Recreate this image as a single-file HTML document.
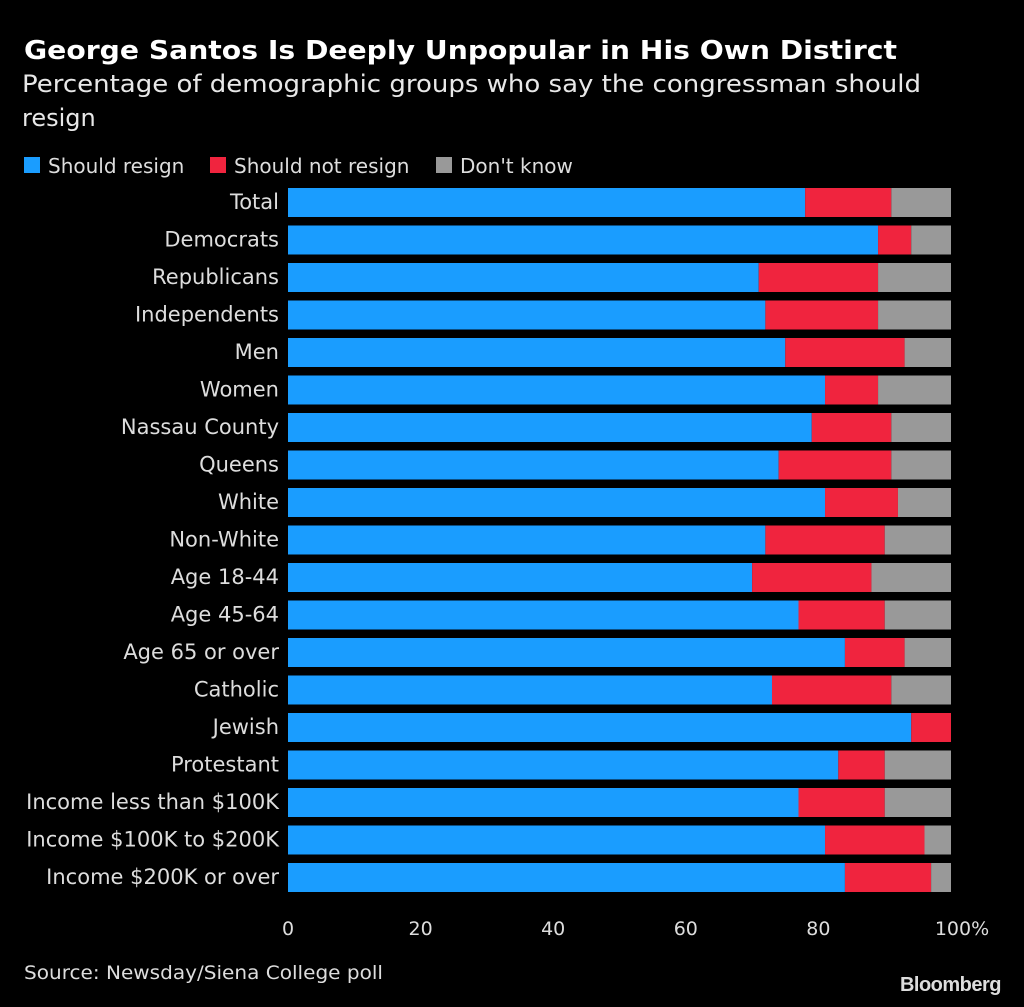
<!DOCTYPE html>
<html><head><meta charset="utf-8"><style>
body{margin:0;background:#000;width:1024px;height:1003px;overflow:hidden;font-family:"DejaVu Sans",sans-serif;color:#ddd}
</style></head><body>
<svg width="1024" height="1003" xmlns="http://www.w3.org/2000/svg" id="svg">
<text x="24" y="59" fill="#fff" font-size="26" font-weight="bold" font-family="DejaVu Sans" textLength="873" lengthAdjust="spacingAndGlyphs">George Santos Is Deeply Unpopular in His Own Distirct</text>
<text x="22" y="92" fill="#e8e8e8" font-size="24" font-family="DejaVu Sans" textLength="899" lengthAdjust="spacingAndGlyphs">Percentage of demographic groups who say the congressman should</text>
<text x="22" y="126" fill="#e8e8e8" font-size="24" font-family="DejaVu Sans">resign</text>
<g font-size="20" fill="#ddd" font-family="DejaVu Sans">
<rect x="24" y="157" width="16" height="16" fill="#1a9dff"/>
<text x="48" y="173">Should resign</text>
<rect x="210" y="157" width="16" height="16" fill="#f0243e"/>
<text x="234" y="173">Should not resign</text>
<rect x="436" y="157" width="16" height="16" fill="#999"/>
<text x="460" y="173">Don't know</text>
</g>
<g id="bars"></g>
<text x="24" y="979" fill="#ddd" font-size="19" font-family="DejaVu Sans" textLength="359" lengthAdjust="spacingAndGlyphs">Source: Newsday/Siena College poll</text>
<text x="1001" y="991" fill="#ddd" font-size="20" font-weight="bold" text-anchor="end" font-family="Liberation Sans" letter-spacing="-0.5">Bloomberg</text>
</svg>
<script>
const categories=["Total","Democrats","Republicans","Independents","Men","Women","Nassau County","Queens","White","Non-White","Age 18-44","Age 45-64","Age 65 or over","Catholic","Jewish","Protestant","Income less than $100K","Income $100K to $200K","Income $200K or over"];
const resign=[78,89,71,72,75,81,79,74,81,72,70,77,84,73,94,83,77,81,84];
const notResign=[13,5,18,17,18,8,12,17,11,18,18,13,9,18,6,7,13,15,13];
const dontKnow=[9,6,11,11,7,11,9,9,8,10,12,10,7,9,0,10,10,4,3];
const ticks=[0,20,40,60,80,100];
const x0=288,x1=951;
const xs=v=>x0+(x1-x0)*v/100;
const ys=i=>188+i*37.5;
const NS="http://www.w3.org/2000/svg";
const g=document.getElementById('bars');
function mk(t,a){const e=document.createElementNS(NS,t);for(const k in a)e.setAttribute(k,a[k]);g.appendChild(e);return e;}
categories.forEach((c,i)=>{
  const y=ys(i);
  const l=mk('text',{x:279,y:y+21,'text-anchor':'end',fill:'#ddd','font-size':21,'font-family':'DejaVu Sans'});
  l.textContent=c;
  
  
  const segs=[[resign[i],'#1a9dff','bar-resign'],[notResign[i],'#f0243e','bar-not-resign'],[dontKnow[i],'#999','bar-dont-know']];
  let acc=0;
  segs.forEach(s=>{
    const r=mk('rect',{x:xs(acc),y:y,width:xs(acc+s[0])-xs(acc),height:29,fill:s[1]});
    
    
    acc+=s[0];
  });
});
ticks.forEach(t=>{
  const e=mk('text',{x:xs(t),y:935,'text-anchor':'middle',fill:'#ddd','font-size':19,'font-family':'DejaVu Sans'});
  e.textContent=t===100?'100%':String(t);
  if(t===100)e.setAttribute('x',xs(t)+11);
  
  
});
</script>
</body></html>
